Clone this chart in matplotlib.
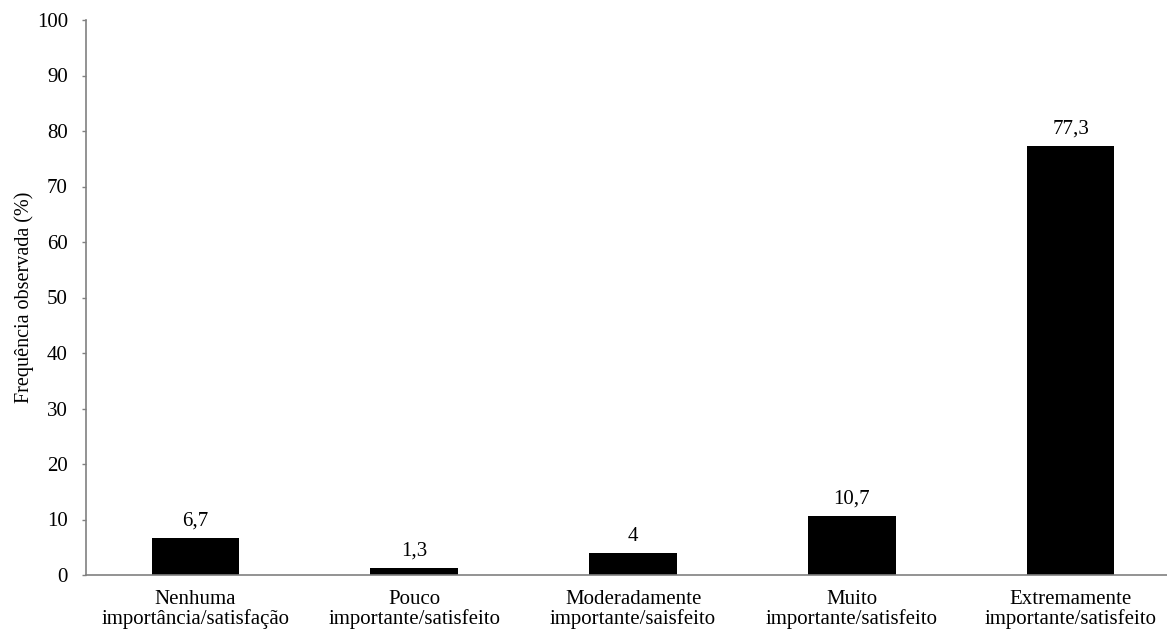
import numpy as np
import matplotlib.pyplot as plt

# categorias e frequencias (%)
categorias = ['Nenhuma\nimportância/satisfação',
              'Pouco\nimportante/satisfeito',
              'Moderadamente\nimportante/saisfeito',
              'Muito\nimportante/satisfeito',
              'Extremamente\nimportante/satisfeito']
valores = [6.7, 1.3, 4.0, 10.7, 77.3]
rotulos = ['6,7', '1,3', '4', '10,7', '77,3']
yticks = np.arange(0, 101, 10)

plt.rcParams['font.family'] = ['Liberation Serif', 'DejaVu Serif']
fs = 15

W, H = 1167, 635
fig = plt.figure(figsize=(W/100, H/100), dpi=100)
ax = fig.add_axes([86/W, 1 - 575/H, (1167 - 86)/W, (575 - 20)/H])

x = np.arange(len(categorias))
bars = ax.bar(x, valores, width=0.4, color='black')

for b, lab in zip(bars, rotulos):
    ax.annotate(lab, (b.get_x() + b.get_width()/2, b.get_height()),
                xytext=(0, 5), textcoords='offset points',
                ha='center', va='bottom', fontsize=fs)

ax.set_xlim(-0.5, 4.44)
ax.set_ylim(0, 100)
ax.set_yticks(yticks)
ax.set_xticks(x)
ax.set_xticklabels(categorias, linespacing=1.0, fontsize=fs)
ax.tick_params(axis='x', length=0, pad=11)
ax.tick_params(axis='y', length=3, width=1, color='#808080', pad=10, labelsize=fs)
ax.set_ylabel('Frequência observada (%)', fontsize=14.5, labelpad=2)

for s in ['top', 'right']:
    ax.spines[s].set_visible(False)
for s in ['left', 'bottom']:
    ax.spines[s].set_color('#808080')
    ax.spines[s].set_linewidth(1.2)

fig.savefig('out.png', dpi=100)
